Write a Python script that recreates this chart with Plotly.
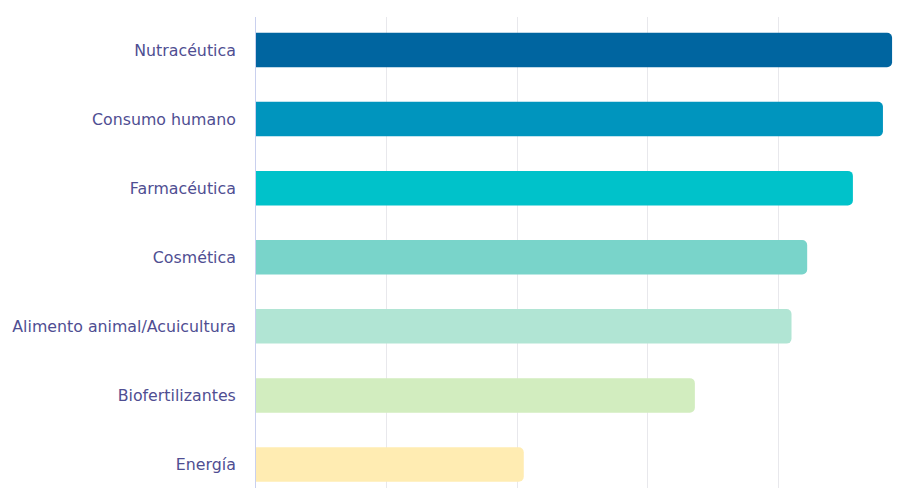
import plotly.graph_objects as go

categories = [
    "Nutracéutica",
    "Consumo humano",
    "Farmacéutica",
    "Cosmética",
    "Alimento animal/Acuicultura",
    "Biofertilizantes",
    "Energía",
]
values = [4.87, 4.80, 4.57, 4.22, 4.10, 3.36, 2.05]
colors = ["#0065A0", "#0095BE", "#00C2CA", "#79D4CA", "#B1E5D4", "#D2EDBF", "#FFECB2"]

fig = go.Figure(
    go.Bar(
        x=values,
        y=categories,
        orientation="h",
        marker=dict(color=colors, line=dict(width=0)),
        hoverinfo="x+y",
    )
)

fig.update_layout(
    width=897,
    height=488,
    margin=dict(l=256, r=1, t=17, b=0),
    paper_bgcolor="white",
    plot_bgcolor="white",
    bargap=0.5,
    barcornerradius=5,
    showlegend=False,
    font=dict(family="DejaVu Sans, sans-serif", size=15, color="#4F4E92"),
)

fig.update_xaxes(
    range=[0, 4.9],
    dtick=1,
    showgrid=True,
    gridcolor="#E8E8EC",
    gridwidth=1,
    showticklabels=False,
    zeroline=False,
    showline=False,
    fixedrange=True,
)

fig.update_yaxes(
    categoryorder="array",
    categoryarray=categories,
    range=[6.34, -0.478],
    autorange=False,
    showline=True,
    linecolor="#C9D0EE",
    linewidth=1,
    showgrid=False,
    ticks="",
    ticklabelstandoff=16,
    tickfont=dict(family="DejaVu Sans, sans-serif", size=15.8, color="#4F4E92"),
    fixedrange=True,
)

fig.write_html("out.html")
